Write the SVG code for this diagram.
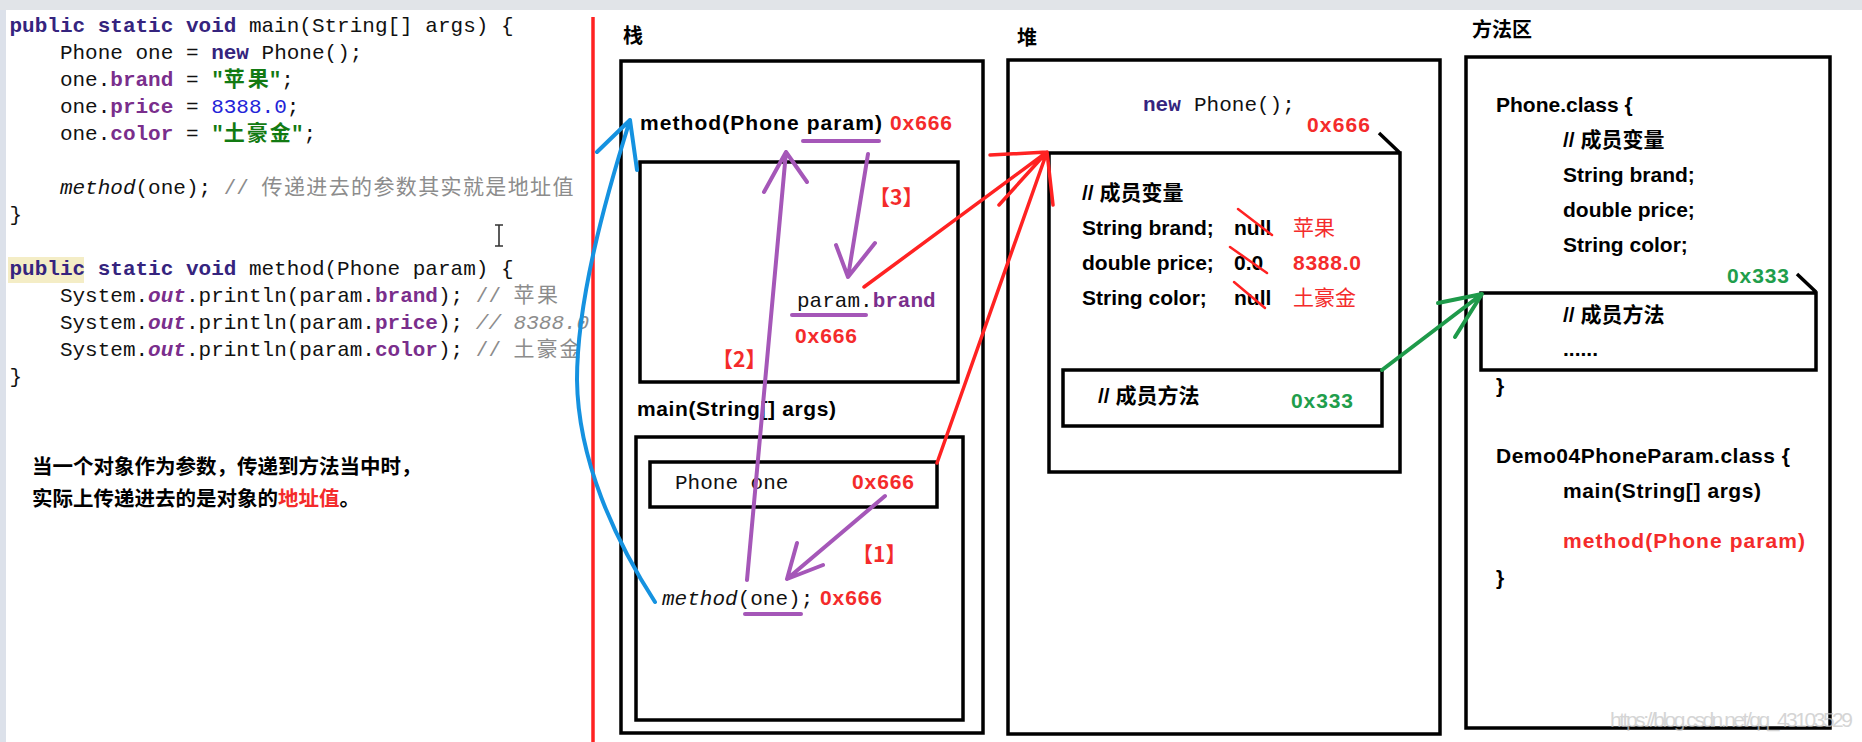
<svg xmlns="http://www.w3.org/2000/svg" width="1862" height="742" viewBox="0 0 1862 742">
<style>
.bg{fill:#fff}
.box{fill:none;stroke:#000;stroke-width:3.5}
.b{font-family:"Liberation Sans","Noto Sans CJK SC",sans-serif;font-weight:bold;font-size:21px;fill:#000}
.cjk{font-family:"Noto Sans CJK SC",sans-serif}
.r{fill:#f42b2b}
.g{fill:#1f9e4c}
.m{font-family:"Liberation Mono",monospace;font-size:21px;fill:#111}
.kw{font-weight:bold;fill:#35247e}
.fd{font-weight:bold;fill:#7a2e8c}
.st{fill:#127a12;font-weight:bold}
.nm{fill:#2323d8}
.cm{fill:#8c8c8c}
.it{font-style:italic}
.cc{font-family:"Noto Sans CJK SC",sans-serif;font-size:21px}
.pur{fill:none;stroke:#a557b8;stroke-width:4;stroke-linecap:round;stroke-linejoin:round}
.red{fill:none;stroke:#ff2222;stroke-width:3.5;stroke-linecap:round;stroke-linejoin:round}
.blu{fill:none;stroke:#1592e0;stroke-width:4;stroke-linecap:round;stroke-linejoin:round}
.grn{fill:none;stroke:#1e9a4a;stroke-width:4;stroke-linecap:round;stroke-linejoin:round}
.strike{stroke:#ff2222;stroke-width:2.5;stroke-linecap:round}
.lbl{font-family:"Noto Sans CJK SC",sans-serif;font-weight:bold;font-size:21px;fill:#f42b2b}
</style>
<rect class="bg" x="0" y="0" width="1862" height="742"/>
<rect x="0" y="0" width="1862" height="10" fill="#e1e4e8"/>
<rect x="0" y="10" width="6" height="732" fill="#dce1ea"/>

<g id="code">
<rect x="8" y="257" width="76" height="26" fill="#f4edc6"/>
<text class="m" y="32"><tspan class="kw" x="9.5">public static void</tspan><tspan x="248.9">main(String[] args) {</tspan></text>
<text class="m" y="59"><tspan x="59.9">Phone one = </tspan><tspan class="kw">new</tspan><tspan> Phone();</tspan></text>
<text class="m" y="86"><tspan x="59.9">one.</tspan><tspan class="fd">brand</tspan><tspan> = </tspan><tspan class="st">"</tspan><tspan class="st cc" x="223.7" textLength="45">苹果</tspan><tspan class="st" x="268.7">"</tspan><tspan x="281.3">;</tspan></text>
<text class="m" y="113"><tspan x="59.9">one.</tspan><tspan class="fd">price</tspan><tspan> = </tspan><tspan class="nm">8388.0</tspan><tspan>;</tspan></text>
<text class="m" y="140"><tspan x="59.9">one.</tspan><tspan class="fd">color</tspan><tspan> = </tspan><tspan class="st">"</tspan><tspan class="st cc" x="223.7" textLength="67">土豪金</tspan><tspan class="st" x="291">"</tspan><tspan x="303.6">;</tspan></text>
<text class="m" y="194"><tspan class="it" x="59.9">method</tspan><tspan>(one); </tspan><tspan class="cm">//</tspan><tspan class="cm cc" x="261.5" textLength="312">传递进去的参数其实就是地址值</tspan></text>
<text class="m" y="221"><tspan x="9.5">}</tspan></text>
<text class="m" y="275"><tspan class="kw" x="9.5">public static void</tspan><tspan x="248.9">method(Phone param) {</tspan></text>
<text class="m" y="302"><tspan x="59.9">System.</tspan><tspan class="fd it">out</tspan><tspan>.println(param.</tspan><tspan class="fd">brand</tspan><tspan>); </tspan><tspan class="cm">//</tspan><tspan class="cm cc" x="513.5" textLength="44.6">苹果</tspan></text>
<text class="m" y="329"><tspan x="59.9">System.</tspan><tspan class="fd it">out</tspan><tspan>.println(param.</tspan><tspan class="fd">price</tspan><tspan>); </tspan><tspan class="cm it">// 8388.0</tspan></text>
<text class="m" y="356"><tspan x="59.9">System.</tspan><tspan class="fd it">out</tspan><tspan>.println(param.</tspan><tspan class="fd">color</tspan><tspan>); </tspan><tspan class="cm">//</tspan><tspan class="cm cc" x="513.5" textLength="67">土豪金</tspan></text>
<text class="m" y="383"><tspan x="9.5">}</tspan></text>
<path d="M495,225 H503 M499,225 V246 M495,246 H503" stroke="#333" stroke-width="1.6" fill="none"/>
</g>

<g id="note">
<text class="b cjk" x="32" y="474" style="font-size:20.5px">当一个对象作为参数，传递到方法当中时，</text>
<text class="b cjk" x="32" y="506" style="font-size:20.5px">实际上传递进去的是对象的<tspan class="r">地址值</tspan>。</text>
</g>

<line x1="593" y1="17" x2="593" y2="742" stroke="#ff2222" stroke-width="3.5"/>

<g id="stack">
<text class="b cjk" x="623" y="43" style="font-size:20px">栈</text>
<rect class="box" x="621" y="61" width="362" height="672"/>
</g>

<g id="method-frame">
<text class="b" x="640" y="130" textLength="242">method(Phone param)</text>
<text class="b r" x="890" y="130" textLength="62">0x666</text>
<rect class="box" x="640" y="162" width="318" height="220"/>
<text class="m" y="307"><tspan x="797">param.</tspan><tspan class="fd">brand</tspan></text>
<text class="b r" x="795" y="343" textLength="62">0x666</text>
</g>

<g id="main-frame">
<text class="b" x="637" y="416" textLength="199">main(String[] args)</text>
<rect class="box" x="636" y="437" width="327" height="283"/>
<text class="m it" x="662" y="605">method<tspan font-style="normal">(one);</tspan></text>
<text class="b r" x="820" y="605" textLength="62">0x666</text>
</g>

<g id="phone-one">
<rect class="box" x="650" y="462" width="287" height="45"/>
<text class="m" x="675" y="489">Phone one</text>
<text class="b r" x="852" y="489" textLength="62">0x666</text>
</g>

<g id="heap">
<text class="b cjk" x="1017" y="45" style="font-size:20px">堆</text>
<rect class="box" x="1008" y="60" width="432" height="674"/>
<text class="m" y="111"><tspan class="kw" x="1143" fill="#1e1e9a">new</tspan><tspan x="1194">Phone();</tspan></text>
<text class="b r" x="1307" y="132" textLength="63">0x666</text>
</g>

<g id="heap-object">
<path class="box" d="M1049,153 H1400 V472 H1049 Z M1379,133 L1400,153"/>
<text class="b" x="1082" y="200">// 成员变量</text>
<text class="b" x="1082" y="235">String brand;</text>
<text class="b" x="1082" y="270">double price;</text>
<text class="b" x="1082" y="305">String color;</text>
<text class="b" x="1234" y="235">null</text>
<text class="b" x="1234" y="270">0.0</text>
<text class="b" x="1234" y="305">null</text>
<line class="strike" x1="1238" y1="209" x2="1272" y2="235"/>
<line class="strike" x1="1230" y1="247" x2="1267" y2="273"/>
<line class="strike" x1="1234" y1="282" x2="1265" y2="308"/>
<text class="cjk r" x="1293" y="235" font-size="21">苹果</text>
<text class="b r" x="1293" y="270" textLength="68">8388.0</text>
<text class="cjk r" x="1293" y="305" font-size="21">土豪金</text>
</g>

<g id="heap-methods">
<rect class="box" x="1063" y="370" width="319" height="56"/>
<text class="b" x="1098" y="403">// 成员方法</text>
<text class="b g" x="1291" y="408" textLength="62">0x333</text>
</g>

<g id="method-area">
<text class="b cjk" x="1472" y="37" style="font-size:20px">方法区</text>
<rect class="box" x="1466" y="57" width="364" height="671"/>
</g>

<g id="phone-class">
<text class="b" x="1496" y="112">Phone.class {</text>
<text class="b" x="1563" y="147">// 成员变量</text>
<text class="b" x="1563" y="182">String brand;</text>
<text class="b" x="1563" y="217">double price;</text>
<text class="b" x="1563" y="252">String color;</text>
<text class="b g" x="1727" y="283" textLength="62">0x333</text>
<text class="b" x="1496" y="393">}</text>
</g>

<g id="phone-methods">
<path class="box" d="M1481,293 H1816 V370 H1481 Z M1797,274 L1816,292"/>
<text class="b" x="1563" y="322">// 成员方法</text>
<text class="b" x="1563" y="356">......</text>
</g>

<g id="demo-class">
<text class="b" x="1496" y="463" textLength="294">Demo04PhoneParam.class {</text>
<text class="b" x="1563" y="498" textLength="198">main(String[] args)</text>
<text class="b r" x="1563" y="548" textLength="242">method(Phone param)</text>
<text class="b" x="1496" y="585">}</text>
</g>

<g id="connectors">
<line class="pur" x1="803" y1="141" x2="879" y2="141"/>
<line class="pur" x1="792" y1="315" x2="866" y2="315"/>
<line class="pur" x1="745" y1="614" x2="801" y2="614"/>
<path class="pur" d="M885,496 L787,579 M797,543 L787,579 L823,565"/>
<path class="pur" d="M747,580 L786,152 M764,192 L786,152 L807,182"/>
<path class="pur" d="M868,154 L848,277 M836,245 L848,277 L875,243"/>
<path class="red" d="M864,287 L1047,152 M937,463 L1047,152 M990,155 L1047,152 M999,205 L1047,152 M1053,205 L1047,152"/>
<path class="grn" d="M1382,370 L1482,294 M1438,303 L1482,294 L1455,337"/>
<path class="blu" d="M655,602 C615,540 578,460 577,380 C577,300 605,200 630,120 M597,152 L630,120 L637,170"/>
<text class="lbl" x="852" y="562">【1】</text>
<text class="lbl" x="712" y="367">【2】</text>
<text class="lbl" x="869" y="205">【3】</text>
</g>

<text x="1610" y="727" font-family="Liberation Sans, sans-serif" font-size="21" fill="#c4c4c4" opacity="0.7" textLength="243">https://blog.csdn.net/qq_43103529</text>
</svg>
